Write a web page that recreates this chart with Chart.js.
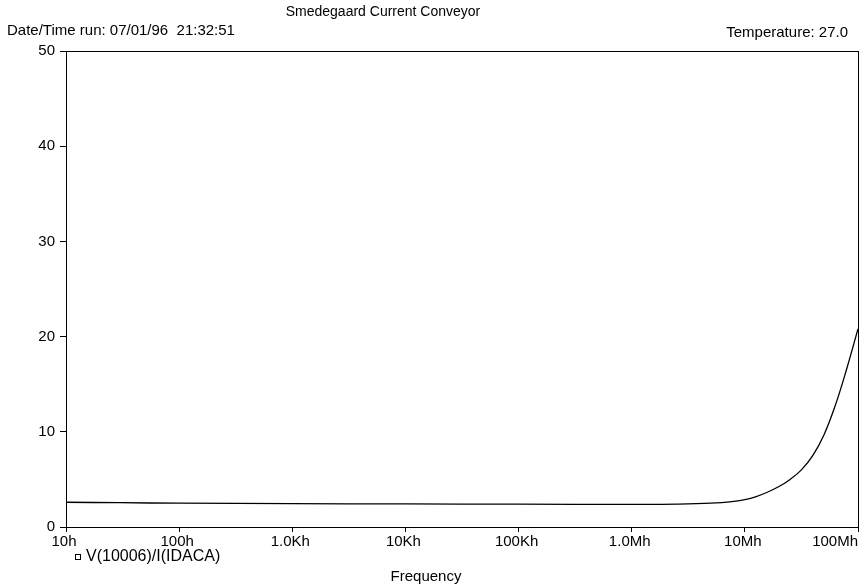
<!DOCTYPE html>
<html>
<head>
<meta charset="utf-8">
<script src="https://cdn.jsdelivr.net/npm/chart.js@4.4.1/dist/chart.umd.min.js"></script>
<style>
  html, body { margin: 0; padding: 0; background: #fff; }
  #plot { display: block; }
</style>
</head>
<body>
<canvas id="plot" width="866" height="588"></canvas>
<script>
// AC sweep: transimpedance V(10006)/I(IDACA) vs frequency
const freqs = [10, 30, 100, 1e3, 1e4, 1e5, 1e6, 2.5e6, 5e6, 8e6, 1e7, 1.26e7, 1.58e7, 2e7, 2.51e7, 3.16e7, 3.98e7, 5.01e7, 6.31e7, 7.94e7, 1e8];
const gain  = [2.6, 2.55, 2.5, 2.45, 2.42, 2.4, 2.38, 2.4, 2.5, 2.7, 2.88, 3.2, 3.65, 4.25, 5.0, 6.0, 7.5, 9.7, 12.8, 16.6, 20.8];

const xTickValues = [1e1, 1e2, 1e3, 1e4, 1e5, 1e6, 1e7, 1e8];
const xTickLabels = ['10h', '100h', '1.0Kh', '10Kh', '100Kh', '1.0Mh', '10Mh', '100Mh'];
const yTicks = [0, 10, 20, 30, 40, 50];

const ink = '#000';
const fontFamily = "'Liberation Sans', Arial, sans-serif";

const textPlugin = {
    id: 'probeText',
    afterDraw(chart) {
        const c = chart.ctx;
        const area = chart.chartArea;
        const xs = chart.scales.x;

        c.save();
        // plot frame (top and right edges)
        c.strokeStyle = ink;
        c.lineWidth = 1;
        c.strokeRect(area.left + 0.5, area.top + 0.5, area.right - area.left, area.bottom - area.top);

        c.fillStyle = ink;
        c.textBaseline = 'middle';

        // header
        c.font = '14px ' + fontFamily;
        c.textAlign = 'center';
        c.fillText('Smedegaard Current Conveyor', 383, 12);
        c.font = '15px ' + fontFamily;
        c.textAlign = 'left';
        c.fillText('Date/Time run: 07/01/96  21:32:51', 7, 31);
        c.textAlign = 'right';
        c.fillText('Temperature: 27.0', 848, 33);

        // frequency tick labels, last one pulled inside the frame
        c.font = '15px ' + fontFamily;
        xTickValues.forEach((v, i) => {
            const px = xs.getPixelForValue(v);
            const last = i === xTickValues.length - 1;
            c.textAlign = last ? 'right' : 'center';
            c.fillText(xTickLabels[i], last ? px : px - 2, 542);
        });

        // trace legend
        c.lineWidth = 1;
        c.strokeRect(75.5, 554.5, 5, 5);
        c.font = '16px ' + fontFamily;
        c.textAlign = 'left';
        c.fillText('V(10006)/I(IDACA)', 86, 557);

        // axis name
        c.font = '15px ' + fontFamily;
        c.textAlign = 'center';
        c.fillText('Frequency', 426, 577);
        c.restore();
    }
};

const ctx = document.getElementById('plot');

const chart = new Chart(ctx, {
    type: 'line',
    data: {
        datasets: [{
            label: 'V(10006)/I(IDACA)',
            data: freqs.map((f, i) => ({ x: f, y: gain[i] })),
            borderColor: ink,
            borderWidth: 1.3,
            pointRadius: 0,
            fill: false,
            tension: 0.4
        }]
    },
    options: {
        responsive: false,
        animation: false,
        layout: {
            padding: { top: 51, right: 8, left: 0, bottom: 0 }
        },
        plugins: {
            legend: { display: false },
            tooltip: { enabled: false },
            title: { display: false }
        },
        scales: {
            x: {
                type: 'logarithmic',
                min: 10,
                max: 1e8,
                afterBuildTicks: (scale) => {
                    scale.ticks = xTickValues.map(v => ({ value: v }));
                },
                afterFit: (scale) => {
                    scale.height = 61;
                    scale.paddingLeft = 0;
                    scale.paddingRight = 0;
                },
                ticks: {
                    display: false
                },
                grid: {
                    drawOnChartArea: false,
                    drawTicks: true,
                    tickLength: 5,
                    color: ink
                },
                border: { display: true, color: ink, width: 1 }
            },
            y: {
                min: 0,
                max: 50,
                afterBuildTicks: (scale) => {
                    scale.ticks = yTicks.map(v => ({ value: v }));
                },
                afterFit: (scale) => {
                    scale.width = 66;
                    scale.paddingTop = 0;
                    scale.paddingBottom = 0;
                },
                ticks: {
                    color: ink,
                    padding: 5,
                    font: { family: fontFamily, size: 15 }
                },
                grid: {
                    drawOnChartArea: false,
                    drawTicks: true,
                    tickLength: 6,
                    color: ink
                },
                border: { display: true, color: ink, width: 1 }
            }
        }
    },
    plugins: [textPlugin]
});
</script>
</body>
</html>
